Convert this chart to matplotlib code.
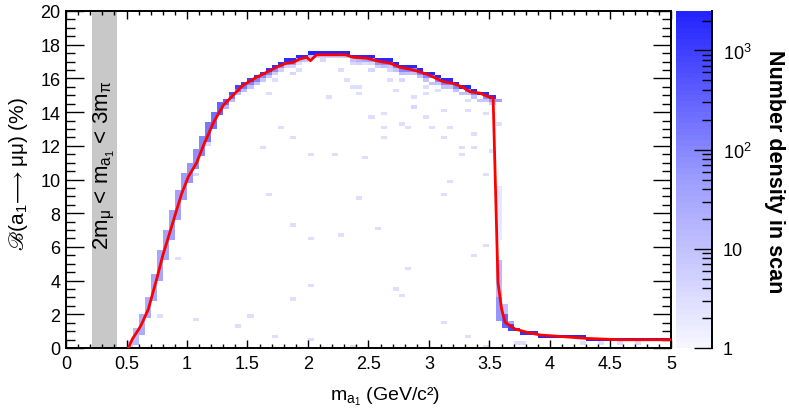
import numpy as np
import matplotlib.pyplot as plt
from matplotlib.colors import LogNorm, LinearSegmentedColormap
from matplotlib.ticker import MultipleLocator, FixedLocator, FixedFormatter, FuncFormatter, LogLocator

plt.rcParams['font.family'] = ['Liberation Sans', 'DejaVu Sans']
plt.rcParams['mathtext.fontset'] = 'custom'
plt.rcParams['mathtext.rm'] = 'Liberation Sans'
plt.rcParams['mathtext.it'] = 'Liberation Sans:italic'
plt.rcParams['mathtext.bf'] = 'Liberation Sans:bold'
plt.rcParams['mathtext.fallback'] = 'stix'

# red curve : best BR(a1 -> mu mu) vs m_a1
curve_m = [0.515, 0.55, 0.6, 0.625, 0.68, 0.75, 0.80, 0.86, 0.90, 0.955, 1.01, 1.08, 1.135,
           1.22, 1.30, 1.38, 1.465, 1.575, 1.686, 1.75, 1.82, 1.88, 1.93, 1.99, 2.02, 2.07,
           2.15, 2.21, 2.31, 2.375, 2.485, 2.595, 2.68, 2.76, 2.87, 2.98, 3.06, 3.12, 3.20,
           3.28, 3.34, 3.42, 3.48, 3.53, 3.57, 3.60, 3.63, 3.71, 3.81, 3.92, 4.0, 4.3, 4.58, 5.0]
curve_br = [0.0, 0.55, 1.1, 1.42, 2.3, 4.1, 5.5, 6.9, 7.85, 9.14, 10.15, 11.0, 12.0,
            13.4, 14.4, 15.0, 15.6, 16.07, 16.46, 16.7, 16.9, 16.95, 17.15, 17.25, 17.05, 17.4,
            17.4, 17.4, 17.4, 17.25, 17.2, 17.0, 16.9, 16.66, 16.5, 16.26, 16.0, 15.8, 15.7,
            15.47, 15.2, 15.13, 14.94, 14.84, 3.9, 2.31, 1.52, 1.13, 0.93, 0.77, 0.73, 0.57, 0.49, 0.49]

# scan density, blocks of filled cells (x from, x to, y from, y to, points per cell)
blk_x0 = [0.50, 0.55, 0.60, 0.65, 0.70, 0.75, 0.80, 0.85, 0.90, 0.95, 1.00, 1.05, 1.10, 1.15, 1.20, 1.25,
          3.55, 3.55, 3.55, 3.55, 3.60, 3.60, 3.65, 3.65, 3.70, 3.75, 3.90, 4.30]
blk_x1 = [0.55, 0.60, 0.65, 0.70, 0.75, 0.80, 0.85, 0.90, 0.95, 1.00, 1.05, 1.10, 1.15, 1.20, 1.25, 1.30,
          3.60, 3.60, 3.60, 3.60, 3.65, 3.65, 3.70, 3.70, 3.75, 3.90, 4.30, 5.00]
blk_y0 = [0.0, 0.2, 0.8, 1.8, 2.8, 4.0, 5.2, 6.4, 7.6, 8.8, 9.8, 10.6, 11.4, 12.2, 13.0, 13.8,
          14.6, 6.4, 3.0, 1.6, 1.2, 2.0, 1.0, 1.4, 1.0, 0.8, 0.6, 0.4]
blk_y1 = [0.4, 1.2, 2.0, 3.0, 4.4, 5.8, 7.0, 8.2, 9.4, 10.4, 11.0, 11.8, 12.6, 13.4, 14.0, 14.6,
          14.8, 9.6, 5.2, 3.0, 2.0, 2.6, 1.4, 1.6, 1.2, 1.0, 0.8, 0.6]
blk_n = [6, 15, 25, 25, 30, 30, 35, 40, 40, 45, 60, 80, 100, 150, 200, 300,
         40, 2, 15, 60, 300, 10, 800, 30, 1000, 1500, 2000, 2500]

# plateau ridge : top cell and the two cells under it
ridge_x = [1.325, 1.375, 1.425, 1.475, 1.525, 1.575, 1.625, 1.675, 1.725, 1.775, 1.825, 1.875, 1.925,
           1.975, 2.025, 2.075, 2.125, 2.175, 2.225, 2.275, 2.325, 2.375, 2.425, 2.475, 2.525, 2.575,
           2.625, 2.675, 2.725, 2.775, 2.825, 2.875, 2.925, 2.975, 3.025, 3.075, 3.125, 3.175, 3.225,
           3.275, 3.325, 3.375, 3.425, 3.475, 3.525]
ridge_y = [14.7, 15.1, 15.4, 15.75, 15.95, 16.15, 16.35, 16.5, 16.7, 16.85, 17.0, 17.05, 17.25,
           17.35, 17.45, 17.5, 17.5, 17.5, 17.5, 17.5, 17.45, 17.35, 17.3, 17.3, 17.2, 17.15,
           17.05, 17.0, 16.9, 16.75, 16.65, 16.6, 16.5, 16.35, 16.2, 16.05, 15.9, 15.85, 15.7,
           15.6, 15.4, 15.25, 15.2, 15.05, 14.95]
ridge_n = [400, 600, 800, 1000, 1000, 1200, 1200, 1500, 1500, 1500, 1800, 1800, 2000,
           2000, 2500, 2500, 2500, 2500, 2500, 2500, 2500, 2000, 2000, 2000, 2000, 2000,
           2000, 2000, 2000, 2000, 2000, 2000, 2000, 2000, 2000, 2000, 2000, 2000, 2000,
           2000, 2000, 2000, 2000, 1800, 1500]
shade1_n = [200, 150, 150, 150, 120, 120, 100, 100, 80, 80, 60, 40, 20,
            10, 10, 8, 5, 5, 5, 5, 8, 10, 20, 30, 40, 60,
            80, 80, 100, 100, 100, 100, 100, 100, 100, 100, 100, 100, 100,
            100, 100, 100, 80, 80, 60]
shade2_n = [20, 15, 15, 12, 10, 10, 8, 8, 6, 6, 5, 4, 3,
            0, 0, 0, 0, 0, 0, 0, 0, 0, 2, 3, 4, 6,
            8, 8, 10, 10, 10, 10, 10, 10, 10, 10, 10, 10, 10,
            10, 10, 10, 8, 8, 6]

# isolated scan points
iso_x = [2.13, 2.28, 2.37, 1.92, 1.85, 1.73, 2.32, 1.67, 2.18, 2.39, 1.77, 1.88, 1.63, 2.03, 2.22,
         1.18, 2.42, 2.43, 2.43, 2.53, 2.60, 2.66, 2.68, 2.73, 2.80, 2.80, 2.88, 2.88, 2.98, 2.98,
         3.08, 3.15, 3.32, 3.32, 3.48, 2.53, 2.62, 2.98, 2.77, 2.83, 2.61, 3.03, 3.17, 2.62, 3.12,
         3.35, 3.57, 3.28, 3.37, 3.28, 2.47, 3.52, 3.48, 1.08, 1.68, 2.43, 3.17, 3.13, 1.88, 2.03,
         2.28, 2.58, 3.38, 0.93, 2.83, 2.03, 2.73, 2.77, 1.88, 0.78, 1.07, 1.53, 1.42, 3.13, 1.73,
         2.03, 2.37, 3.33, 3.48, 3.48, 3.72, 3.77, 4.26, 4.43, 4.58, 4.72]
iso_y = [17.0, 16.55, 16.8, 16.55, 16.35, 15.95, 15.95, 15.1, 14.97, 15.5, 13.0, 12.56, 11.97, 11.55, 11.55,
         12.17, 16.8, 15.57, 15.1, 16.46, 16.6, 16.46, 15.9, 15.37, 15.8, 16.3, 14.97, 14.34, 15.57, 15.1,
         15.37, 14.18, 14.78, 14.18, 13.99, 13.75, 13.95, 13.75, 13.35, 13.16, 13.16, 13.16, 13.16, 12.56, 12.56,
         12.74, 13.35, 11.97, 11.97, 11.55, 11.35, 11.75, 10.37, 10.3, 9.14, 8.94, 9.93, 9.14, 7.32, 6.53,
         6.73, 7.12, 5.54, 5.32, 4.73, 3.7, 3.54, 3.1, 2.9, 1.92, 1.68, 1.92, 1.29, 1.48, 0.69,
         0.49, 0.1, 0.69, 6.11, 0.1, 0.3, 0.3, 0.3, 0.34, 0.3, 0.3]
iso_n = [4, 3, 4, 3, 4, 3, 3, 3, 3, 3, 3, 3, 3, 3, 3,
         4, 3, 3, 3, 4, 3, 4, 3, 3, 4, 3, 3, 4, 3, 3,
         3, 3, 3, 3, 3, 3, 3, 3, 3, 3, 3, 3, 3, 3, 3,
         3, 3, 3, 3, 3, 3, 3, 3, 4, 3, 3, 3, 3, 3, 3,
         3, 3, 3, 3, 3, 3, 3, 3, 3, 3, 3, 3, 3, 3, 3,
         3, 3, 3, 3, 3, 3, 3, 3, 3, 3, 3]

band_lo, band_hi = 0.2113, 0.4187   # 2 m_mu , 3 m_pi

# build the list of cells
cx, cy, cw = [], [], []
for x0, x1, y0, y1, n in zip(blk_x0, blk_x1, blk_y0, blk_y1, blk_n):
    for x in np.arange(x0 + 0.025, x1 - 0.01, 0.05):
        for y in np.arange(y0 + 0.1, y1 - 0.05, 0.2):
            cx.append(x); cy.append(y); cw.append(n)
for x, y, n0, n1, n2 in zip(ridge_x, ridge_y, ridge_n, shade1_n, shade2_n):
    cx += [x, x, x]
    cy += [y, y - 0.2, y - 0.4]
    cw += [n0, n1, n2]
cx += iso_x; cy += iso_y; cw += iso_n

xedges = np.linspace(0, 5, 101)
yedges = np.linspace(0, 20, 101)

cmap = LinearSegmentedColormap.from_list('scan', ['#f6f6ff', '#9c9cff', '#2424ff'], N=60)

fig = plt.figure(figsize=(7.89, 4.14), dpi=100)
ax = fig.add_axes([66/789, 65/414, 605/789, 337/414])

ax.axvspan(band_lo, band_hi, color='#c8c8c8', lw=0, zorder=0)
h = ax.hist2d(cx, cy, bins=[xedges, yedges], weights=cw, cmap=cmap,
              norm=LogNorm(vmin=1, vmax=2500), cmin=0.5, zorder=1)
ax.plot(curve_m, curve_br, color='red', lw=2, zorder=3)

ax.text(0.315, 10.9, r'2m$_{\mathrm{μ}}$ < m$_{\mathrm{a_{1}}}$ < 3m$_{\mathrm{π}}$', rotation=90,
        ha='center', va='center', fontsize=16, zorder=4)

ax.set_xlim(0, 5)
ax.set_ylim(0, 20)
ax.xaxis.set_major_locator(MultipleLocator(0.5))
ax.xaxis.set_minor_locator(MultipleLocator(0.1))
ax.yaxis.set_major_locator(MultipleLocator(2))
ax.yaxis.set_minor_locator(MultipleLocator(0.5))
ax.xaxis.set_major_formatter(FuncFormatter(lambda v, p: '%g' % v))
ax.tick_params(which='both', direction='in', top=True, right=True, width=1, labelsize=13)
ax.tick_params(axis='x', which='major', length=6, pad=5)
ax.tick_params(axis='x', which='minor', length=3)
ax.tick_params(axis='y', which='major', length=13, pad=4)
ax.tick_params(axis='y', which='minor', length=6.5)
for s in ax.spines.values():
    s.set_linewidth(1.4)

ax.set_xlabel(r'm$_{\mathrm{a_{1}}}$ (GeV/c²)', fontsize=14)
ax.xaxis.set_label_coords(0.527, -0.11)
ax.set_ylabel(r'$\mathrm{ℬ(a_{1}\!\longrightarrow μμ)\ (\%)}$', fontsize=15)
ax.yaxis.set_label_coords(-0.06, 0.52)

# colour scale
cax = fig.add_axes([676/789, 65/414, 36/789, 337/414])
cb = fig.colorbar(h[3], cax=cax)
cb.outline.set_visible(False)
cax.yaxis.set_major_locator(FixedLocator([1, 10, 100, 1000]))
cax.yaxis.set_major_formatter(FixedFormatter(['1', '10', r'$\mathrm{10^{2}}$', r'$\mathrm{10^{3}}$']))
cax.yaxis.set_minor_locator(LogLocator(base=10, subs=np.arange(2, 10)))
cax.tick_params(which='both', direction='in', right=True, left=False, labelright=True,
                labelleft=False, width=1, labelsize=13)
cax.tick_params(which='major', length=13, pad=8)
cax.tick_params(which='minor', length=7)
cax.plot([1, 1], [0, 1], transform=cax.transAxes, color='black', lw=1.4, clip_on=False)
fig.text(774/789, 1 - 172/414, 'Number density in scan', rotation=270, ha='center', va='center',
         fontsize=15.5, fontweight='bold')

fig.savefig('out.png', dpi=100)
